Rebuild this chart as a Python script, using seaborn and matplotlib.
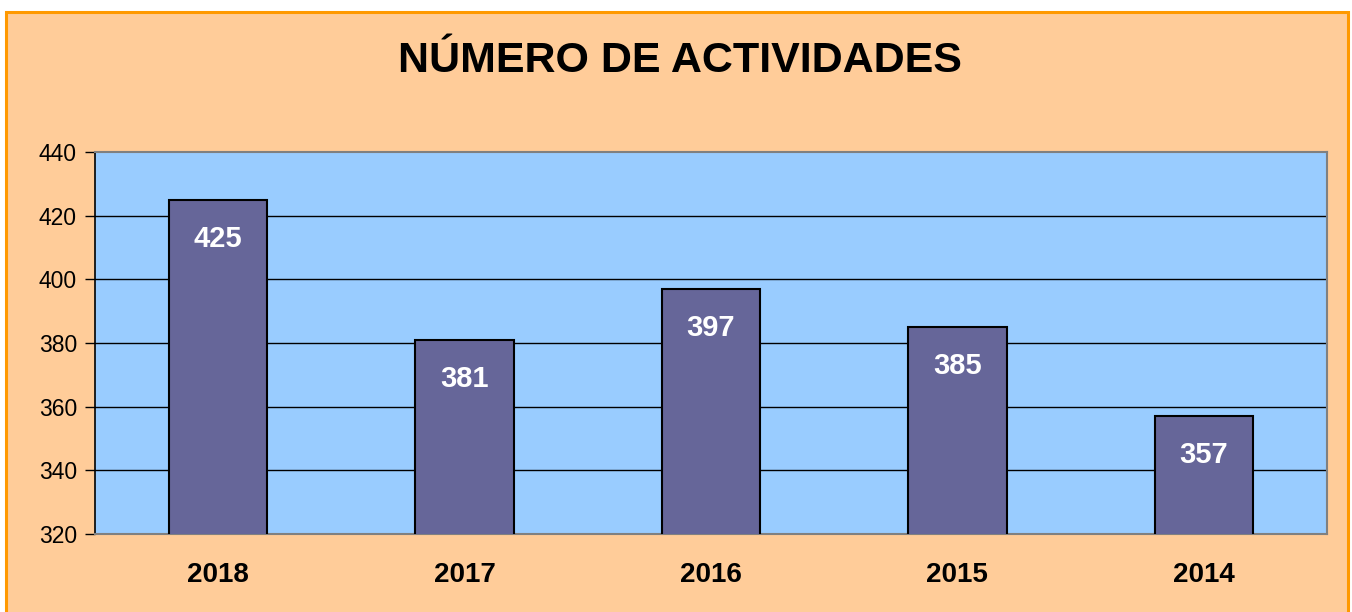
import matplotlib
matplotlib.use("Agg")
import matplotlib.pyplot as plt
from matplotlib.patches import Rectangle
import pandas as pd
import seaborn as sns

# =====================================================
# DATA
# =====================================================
years = ["2018", "2017", "2016", "2015", "2014"]
activities = [425, 381, 397, 385, 357]
y_ticks = [320, 340, 360, 380, 400, 420, 440]

title = "NÚMERO DE ACTIVIDADES"

BG = "#FFCC99"
PLOT_BG = "#99CCFF"
BAR = "#666699"
BORDER = "#FF9900"

# =====================================================
# PLOT
# =====================================================
sns.set_theme(style="white")
plt.rcParams["font.family"] = ["Liberation Sans", "DejaVu Sans"]

df = pd.DataFrame({"year": years, "n": activities})

fig = plt.figure(figsize=(13.52, 6.12), dpi=100, facecolor="white")
fig.patches.append(Rectangle((6 / 1352, -0.05), 1342 / 1352, 1 - 12 / 612 + 0.05,
                             transform=fig.transFigure, facecolor=BG,
                             edgecolor=BORDER, linewidth=2.2, zorder=-10))

ax = fig.add_axes([95 / 1352, 1 - 534 / 612, 1232 / 1352, 382 / 612])
ax.set_facecolor(PLOT_BG)

sns.barplot(data=df, x="year", y="n", order=years, color=BAR, saturation=1,
            width=0.40, edgecolor="black", linewidth=1.5, ax=ax, zorder=3)

ax.set_ylim(320, 440)
ax.set_yticks(y_ticks)
ax.set_xlim(-0.5, len(years) - 0.5)

for y in y_ticks[1:-1]:
    ax.axhline(y, color="black", linewidth=1.0, zorder=1)

for i, v in enumerate(activities):
    ax.annotate(str(v), xy=(i, v), xytext=(0, -28), textcoords="offset points",
                ha="center", va="center", color="white", fontsize=21,
                fontweight="bold", zorder=5)

ax.set_xlabel("")
ax.set_ylabel("")
ax.tick_params(axis="y", left=True, length=7, width=1, color="black",
               labelsize=16.5, pad=6, direction="out", labelcolor="black")
ax.tick_params(axis="x", bottom=False, labelsize=20, pad=14, labelcolor="black")
for lbl in ax.get_xticklabels():
    lbl.set_fontweight("bold")

ax.spines["left"].set_color("black")
ax.spines["left"].set_linewidth(1.2)
for s in ["top", "right", "bottom"]:
    ax.spines[s].set_color("#808080")
    ax.spines[s].set_linewidth(1.5)

fig.text(680 / 1352, 1 - 61 / 612, title, ha="center", va="center",
         fontsize=31, fontweight="bold", color="black")

fig.savefig("out.png", dpi=100, facecolor=fig.get_facecolor())
